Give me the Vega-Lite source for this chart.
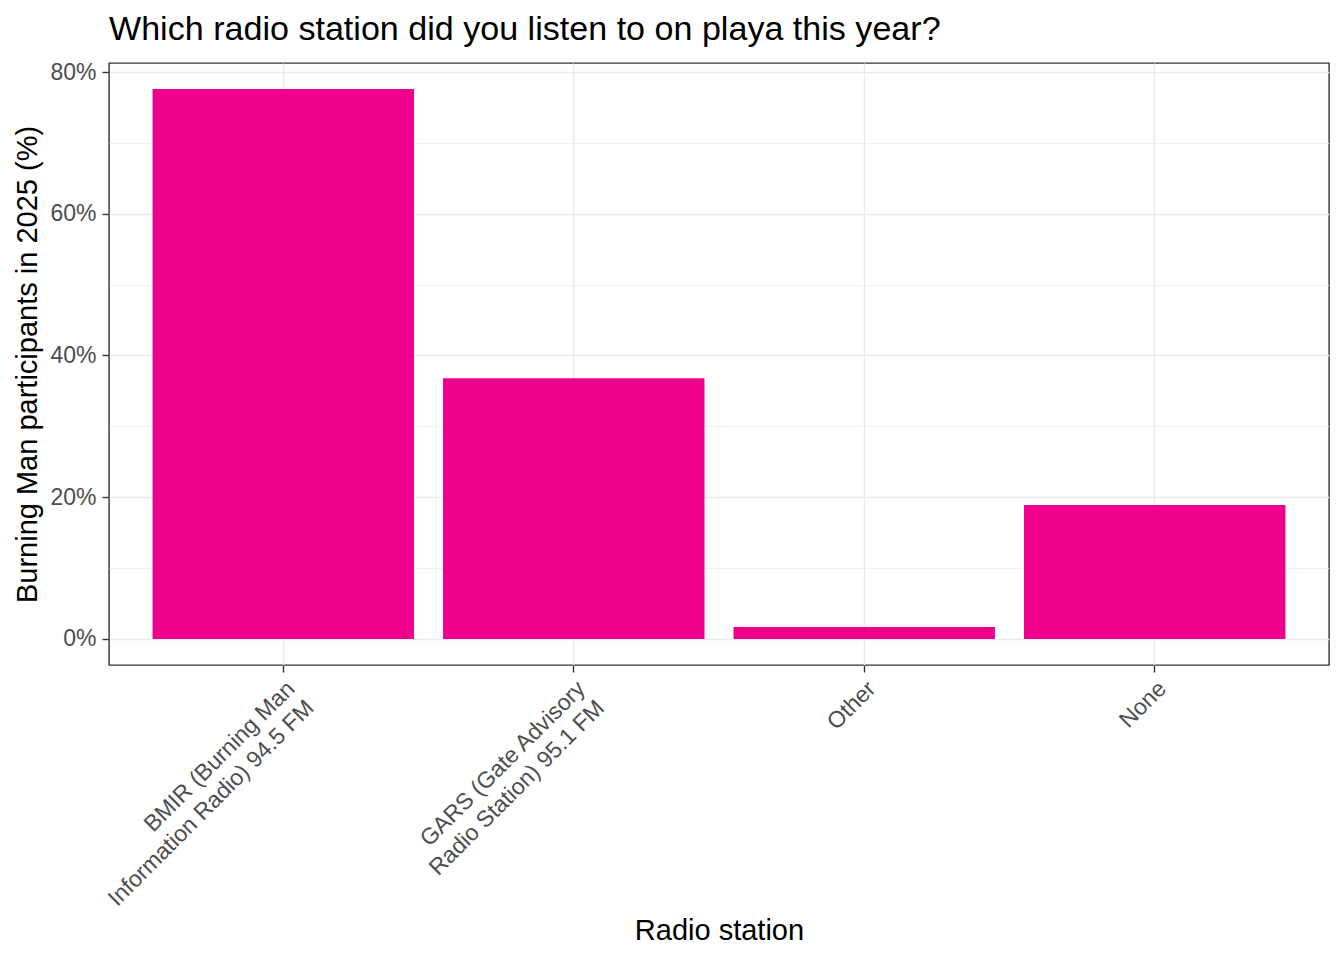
{
  "$schema": "https://vega.github.io/schema/vega-lite/v6.json",
  "autosize": {"type": "none"},
  "width": 1220,
  "height": 602,
  "padding": {"left": 109, "top": 63, "right": 15, "bottom": 295},
  "background": "white",
  "config": {
    "font": "Liberation Sans",
    "view": {"stroke": "#333333", "strokeWidth": 1.4}
  },
  "title": {
    "text": "Which radio station did you listen to on playa this year?",
    "anchor": "start",
    "frame": "group",
    "fontSize": 34.1,
    "fontWeight": "normal",
    "color": "#000000",
    "offset": 14
  },
  "data": {
    "values": [
      {"station": "BMIR (Burning Man\nInformation Radio) 94.5 FM", "pct": 77.6},
      {"station": "GARS (Gate Advisory\nRadio Station) 95.1 FM", "pct": 36.8},
      {"station": "Other", "pct": 1.7},
      {"station": "None", "pct": 18.9}
    ]
  },
  "mark": {"type": "bar", "color": "#EC008C"},
  "encoding": {
    "x": {
      "field": "station",
      "type": "nominal",
      "sort": null,
      "title": "Radio station",
      "scale": {"paddingInner": 0.1, "paddingOuter": 0.15},
      "axis": {
        "labelExpr": "split(datum.label, '\\n')",
        "labelAngle": -45,
        "labelAlign": "right",
        "labelBaseline": "top",
        "labelFontSize": 23,
        "labelColor": "#4d4d4d",
        "labelLineHeight": 27,
        "labelLimit": 0,
        "labelPadding": 5,
        "domain": false,
        "grid": true,
        "gridColor": "#ebebeb",
        "gridWidth": 1.4,
        "ticks": true,
        "tickColor": "#333333",
        "tickSize": 7,
        "tickWidth": 1.4,
        "bandPosition": 0.5,
        "titleFontSize": 29,
        "titleFontWeight": "normal",
        "titleColor": "#000000",
        "titlePadding": 51
      }
    },
    "y": {
      "field": "pct",
      "type": "quantitative",
      "title": "Burning Man participants in 2025 (%)",
      "scale": {"domain": [-3.67, 81.27], "nice": false, "zero": false},
      "axis": {
        "values": [0, 10, 20, 30, 40, 50, 60, 70, 80],
        "labelExpr": "datum.value % 20 === 0 ? datum.value + '%' : ''",
        "labelFontSize": 23,
        "labelColor": "#4d4d4d",
        "labelPadding": 6,
        "domain": false,
        "grid": true,
        "gridColor": "#ebebeb",
        "gridWidth": {"condition": {"test": "datum.value % 20 !== 0", "value": 0.7}, "value": 1.4},
        "tickColor": "#333333",
        "tickSize": 7,
        "tickWidth": 1.4,
        "tickOpacity": {"condition": {"test": "datum.value % 20 !== 0", "value": 0}, "value": 1},
        "titleFontSize": 29,
        "titleFontWeight": "normal",
        "titleColor": "#000000",
        "titlePadding": 7
      }
    }
  }
}
